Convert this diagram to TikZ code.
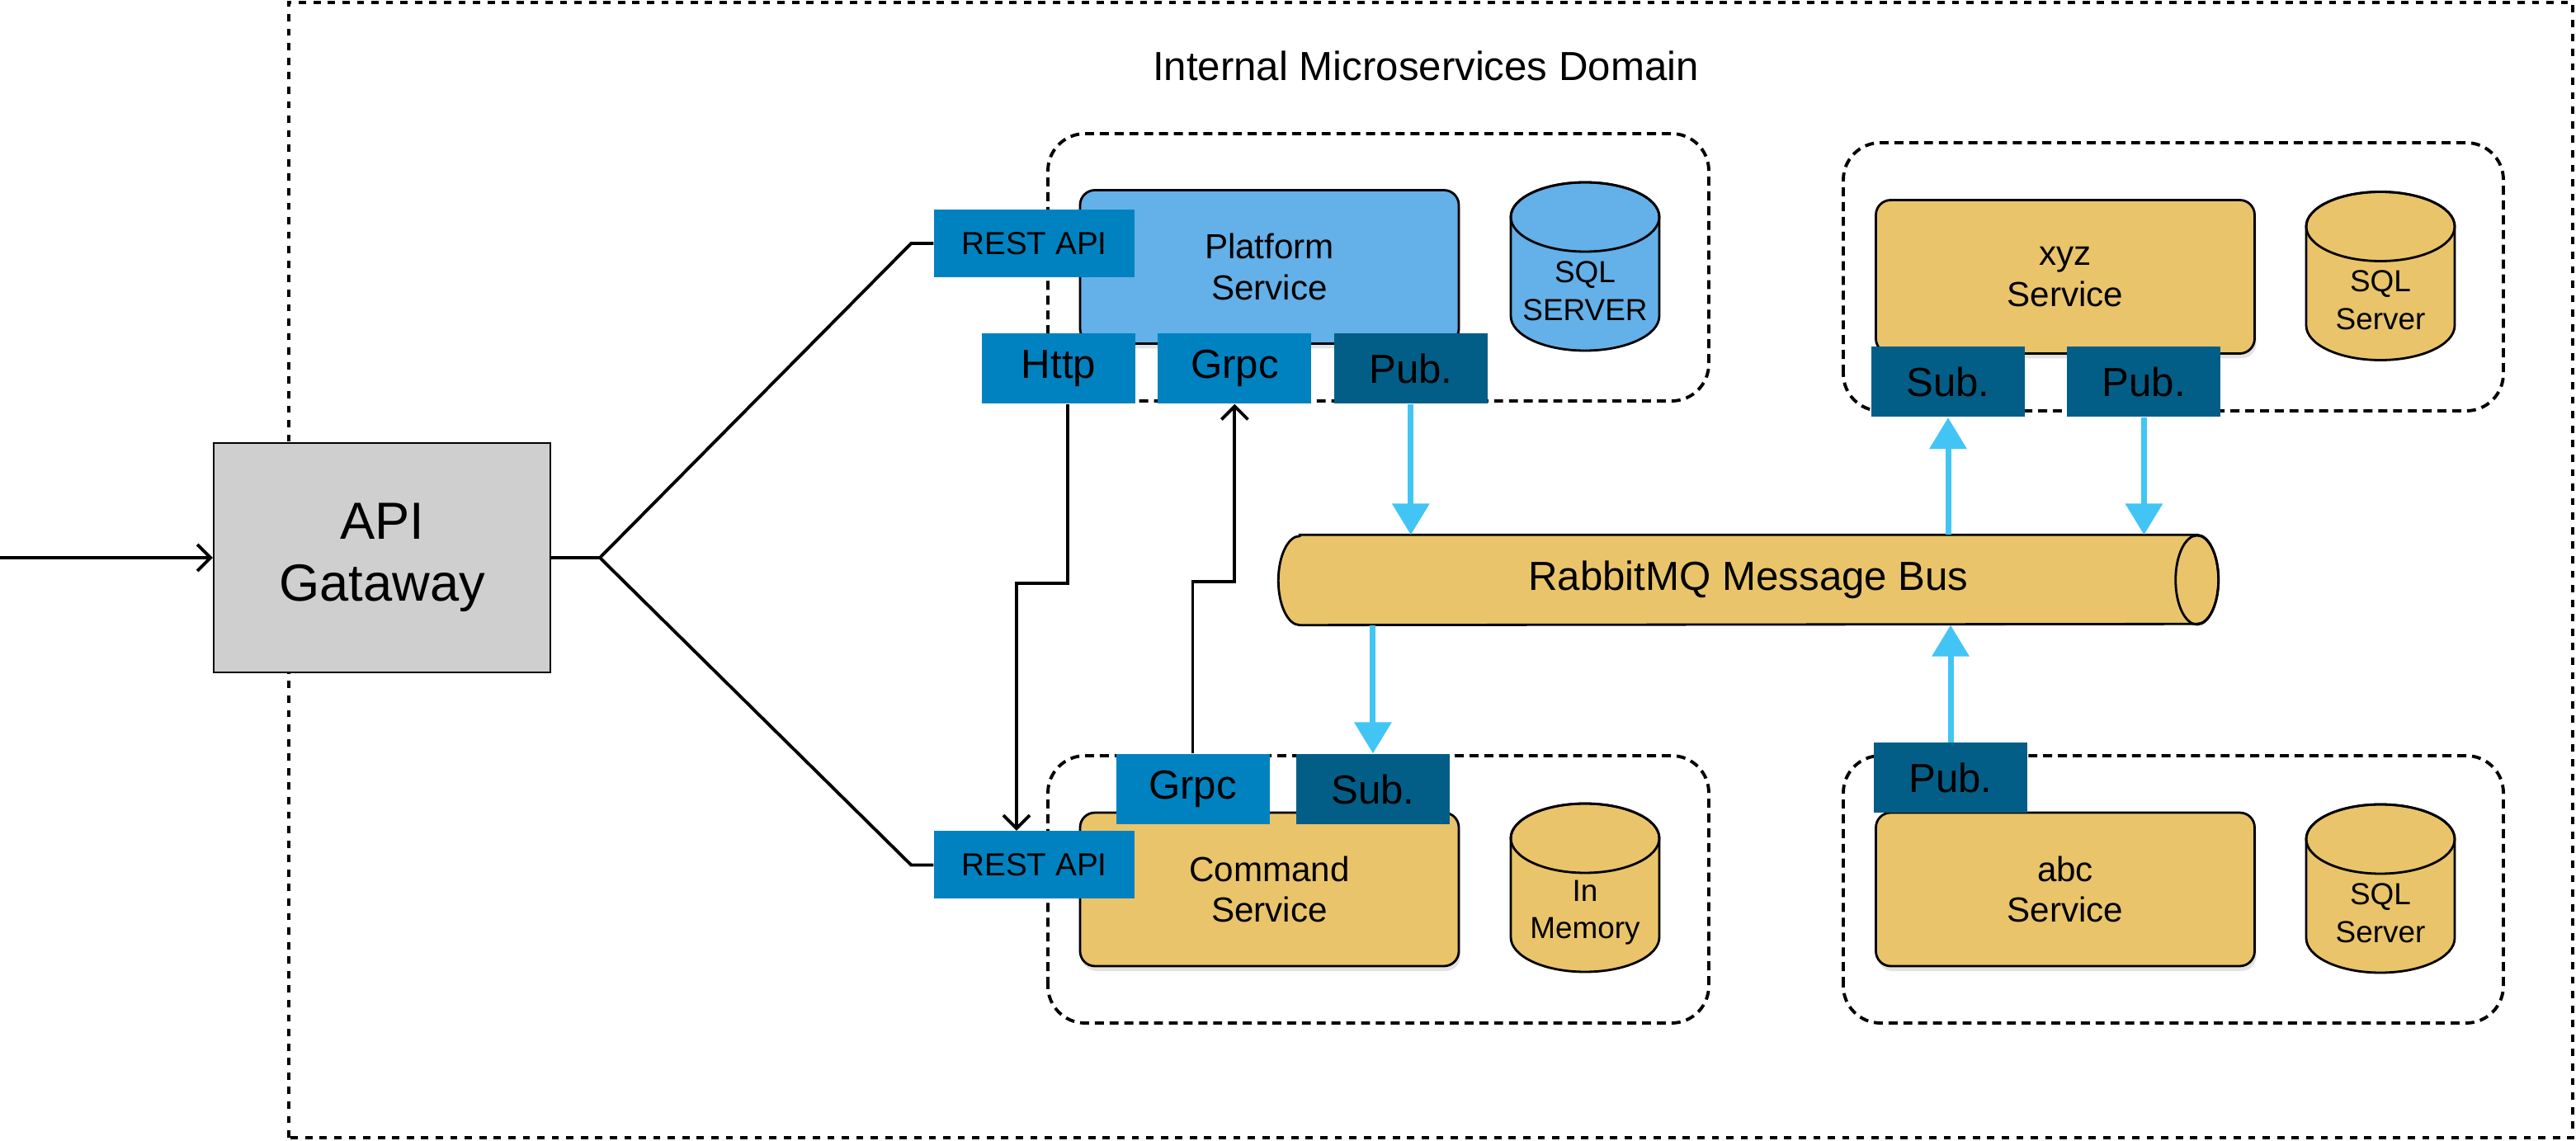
\documentclass[tikz,border=0pt]{standalone}
\usepackage{fontspec}
\setmainfont{Liberation Sans}
\usetikzlibrary{arrows.meta, positioning, calc, shadows}

\definecolor{platblue}{HTML}{64B0E8}
\definecolor{svcyellow}{HTML}{E9C46A}
\definecolor{tagblue}{HTML}{0082C0}
\definecolor{tagdark}{HTML}{035E87}
\definecolor{flowblue}{HTML}{42C5F5}
\definecolor{gwgrey}{HTML}{CFCFCF}

\begin{document}
\begin{tikzpicture}[
      service/.style={rectangle, draw, line width=0.8pt, rounded corners=0.18cm, minimum width=4.59cm, minimum height=1.86cm, align=center, font=\fontsize{12}{14}\selectfont, drop shadow={shadow xshift=0.02cm, shadow yshift=-0.06cm, opacity=0.22}},
      tag/.style={rectangle, fill=tagblue, minimum width=1.86cm, minimum height=0.85cm, inner sep=0pt, font=\fontsize{14}{16}\selectfont},
      pubsub/.style={tag, fill=tagdark},
      restapi/.style={tag, minimum width=2.43cm, minimum height=0.82cm, font=\fontsize{11}{13}\selectfont},
      group/.style={draw, line width=1.1pt, dash pattern=on 3.1pt off 2pt, rounded corners=0.45cm},
      dbtext/.style={align=center, font=\fontsize{10.5}{13}\selectfont},
      link/.style={line width=1.1pt},
      call/.style={link, -{Straight Barb[length=0.16cm, width=0.32cm]}},
      flow/.style={draw=flowblue, line width=2pt, -{Triangle[length=0.38cm, width=0.44cm]}},
      pics/dbcyl/.style={code={
        \draw[line width=0.8pt, fill=#1] (-0.9,0.6) -- (-0.9,-0.6) arc[start angle=180, end angle=360, x radius=0.9, y radius=0.42] -- (0.9,0.6) arc[start angle=0, end angle=180, x radius=0.9, y radius=0.42] -- cycle;
        \draw[line width=0.8pt] (0,0.6) ellipse[x radius=0.9, y radius=0.42];
      }}
  ]

      \useasboundingbox (0,0) rectangle (31.22,13.82);

      % Domain
      \draw[line width=1.1pt, dash pattern=on 2.5pt off 2.5pt] (3.50,0.03) rectangle (31.18,13.79);
      \node[font=\fontsize{14}{16}\selectfont] (domain) at (17.28,13.02) {Internal Microservices Domain};

      % Gateway
      \coordinate (client) at (0,7.06);
      \node[draw, line width=0.7pt, fill=gwgrey, minimum width=4.08cm, minimum height=2.78cm, align=center, font=\fontsize{18}{21.5}\selectfont] (gw) at (4.63,7.06) {API\\Gataway};
      \coordinate (split) at (7.27,7.06);

      % Service groups
      \draw[group] (12.70,8.96) rectangle (20.71,12.20);
      \draw[group] (12.70,1.42) rectangle (20.71,4.66);
      \draw[group] (22.34,8.84) rectangle (30.34,12.09);
      \draw[group] (22.34,1.42) rectangle (30.34,4.66);

      % Services
      \node[service, fill=platblue] (platform) at (15.385,10.585) {Platform\\Service};
      \node[service, fill=svcyellow] (command) at (15.385,3.04) {Command\\Service};
      \node[service, fill=svcyellow] (xyz) at (25.03,10.465) {xyz\\Service};
      \node[service, fill=svcyellow] (abc) at (25.03,3.04) {abc\\Service};

      % Databases
      \pic at (19.21,10.59) {dbcyl=platblue};
      \node[dbtext] (platdb) at (19.21,10.29) {SQL\\SERVER};
      \pic at (19.21,3.06) {dbcyl=svcyellow};
      \node[dbtext] (cmddb) at (19.21,2.76) {In\\Memory};
      \pic at (28.85,10.475) {dbcyl=svcyellow};
      \node[dbtext] (xyzdb) at (28.85,10.18) {SQL\\Server};
      \pic at (28.85,3.05) {dbcyl=svcyellow};
      \node[dbtext] (abcdb) at (28.85,2.75) {SQL\\Server};

      % Endpoints
      \node[restapi] (restp) at (12.535,10.87) {REST API};
      \node[tag] (httpp) at (12.83,9.355) {Http};
      \node[tag, right=0.26cm of httpp] (grpcp) {Grpc};
      \node[pubsub, right=0.26cm of grpcp] (pubp) {Pub.};

      \node[restapi] (restc) at (12.535,3.335) {REST API};
      \node[tag] (grpcc) at (14.455,4.255) {Grpc};
      \node[pubsub, right=0.31cm of grpcc] (subc) {Sub.};

      \node[pubsub] (subx) at (23.61,9.19) {Sub.};
      \node[pubsub, right=0.5cm of subx] (pubx) {Pub.};

      \node[pubsub] (puba) at (23.64,4.39) {Pub.};

      % Message bus
      \node[minimum width=11.38cm, minimum height=1.08cm, inner sep=0pt] (bus) at (21.19,6.79) {};
      \draw[line width=0.8pt, fill=svcyellow] ([xshift=0.26cm]bus.north west) -- ([xshift=-0.26cm]bus.north east) arc[start angle=90, end angle=-90, x radius=0.26, y radius=0.54] -- ([xshift=0.26cm]bus.south west) arc[start angle=270, end angle=90, x radius=0.26, y radius=0.54] -- cycle;
      \draw[line width=0.8pt] ([xshift=-0.26cm]bus.east) ellipse[x radius=0.26, y radius=0.54];
      \node[font=\fontsize{14}{16}\selectfont] (buslabel) at (bus) {RabbitMQ Message Bus};

      % Gateway routes
      \draw[call] (client) -- (gw.west);
      \draw[link] (gw.east) -- (split) -- ([xshift=-0.27cm]restp.west) -- (restp.west);
      \draw[link] (split) -- ([xshift=-0.27cm]restc.west) -- (restc.west);

      % Sync calls
      \draw[call] ([xshift=0.11cm]httpp.south) -- ++(0,-2.17) -| ([xshift=-0.215cm]restc.north);
      \draw[call] (grpcc.north) -- ++(0,2.08) -| (grpcp.south);

      % Bus traffic
      \draw[flow] (pubp.south) -- (pubp.south |- bus.north);
      \draw[flow] (bus.south -| subc.north) -- (subc.north);
      \draw[flow] (bus.north -| subx.south) -- (subx.south);
      \draw[flow] (pubx.south) -- (pubx.south |- bus.north);
      \draw[flow] (puba.north) -- (puba.north |- bus.south);

\end{tikzpicture}
\end{document}
